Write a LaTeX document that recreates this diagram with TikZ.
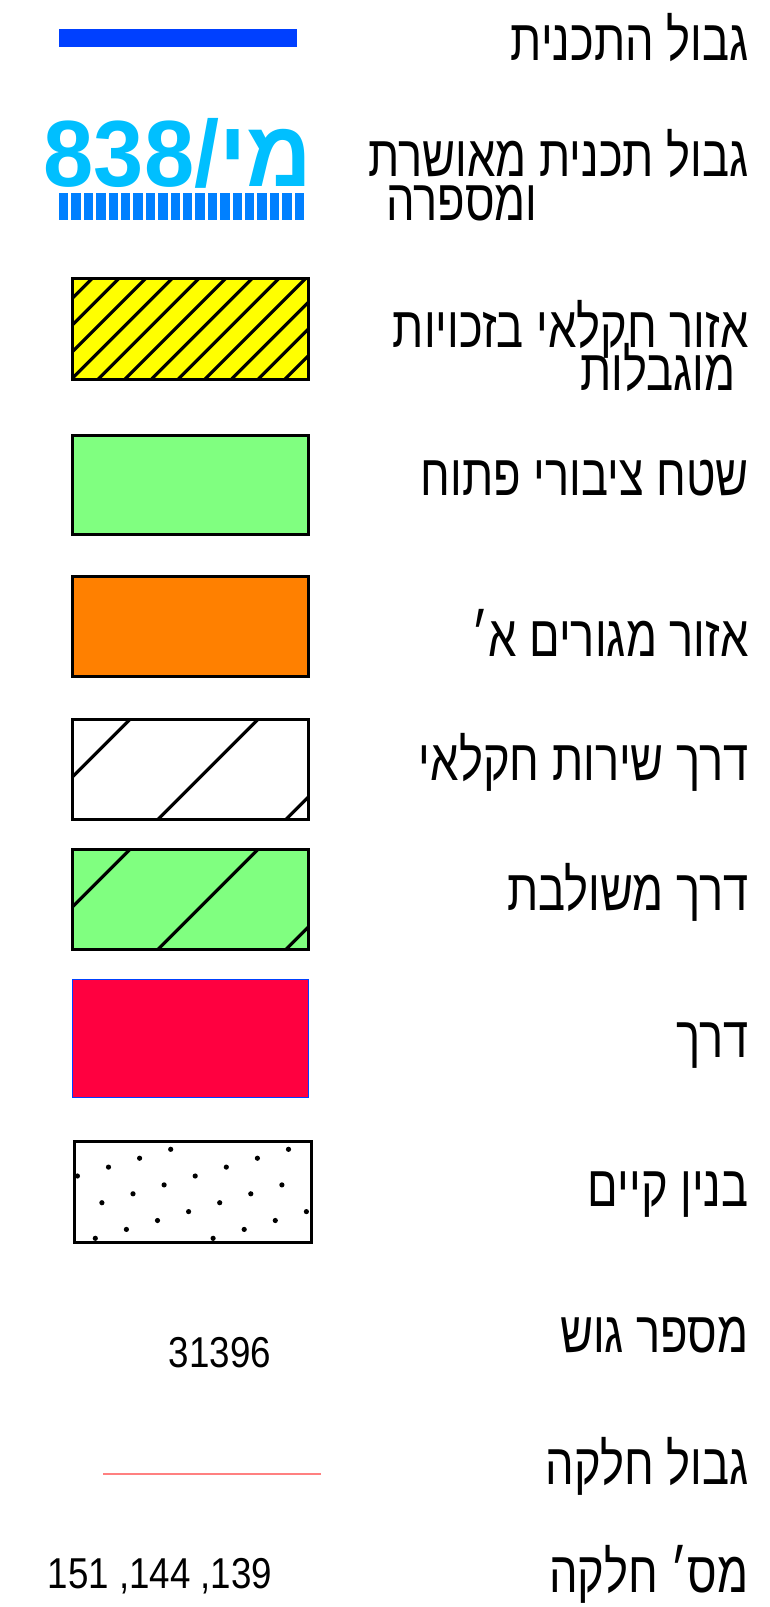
\documentclass[tikz,border=0pt]{standalone}
\usepackage{fontspec}
\setmainfont{Liberation Sans}
\newfontfamily\hebfont[Script=Hebrew,FakeStretch=0.78]{Liberation Sans}
\newfontfamily\numfont[FakeStretch=0.85]{Liberation Sans}
\newfontfamily\tagfont[FakeStretch=0.96]{Liberation Sans Bold}
\TeXXeTstate=1
\definecolor{planblue}{HTML}{0040FF}
\definecolor{tagblue}{HTML}{00BFFF}
\definecolor{barblue}{HTML}{0080FF}
\definecolor{agriyellow}{HTML}{FFFF00}
\definecolor{opengreen}{HTML}{80FF80}
\definecolor{resorange}{HTML}{FF8000}
\definecolor{roadred}{HTML}{FF0040}
\definecolor{lotpink}{HTML}{FF8080}
\tikzset{
  lbl/.style={anchor=east,inner sep=0pt,font=\hebfont\fontsize{29}{33}\selectfont},
  legbox/.style={draw=black,line width=1.5pt},
  hatch/.style={black,line width=1.6pt},
  num/.style={inner sep=0pt,font=\numfont\fontsize{21.6}{26}\selectfont}
}

\begin{document}
\begin{tikzpicture}[x=0.5pt,y=-0.5pt]
\useasboundingbox (0,0) rectangle (770,1607);
% plan boundary
\draw[planblue,line width=8.7pt] (59,38) -- (297,38);
\node[lbl] (bound) at (749,38) {\beginR גבול התכנית\endR};
% approved plan
\node[inner sep=0pt,text=tagblue,font=\tagfont\fontsize{47}{52}\selectfont] (tag) at (178,153) {838/\beginR מי\endR};
\foreach \i in {0,...,19}
  \fill[barblue] ({59+\i*12.4},193) rectangle ++(9.4,27);
\node[lbl] (approved) at (749,154) {\beginR גבול תכנית מאושרת\endR};
\node[lbl] (approved2) at (538,203) {\beginR ומספרה\endR};
% agricultural zone
\fill[agriyellow] (72,278) rectangle (308,379);
\begin{scope}
  \clip (72,278) rectangle (308,379);
  \foreach \x in {-4,...,9}
    \draw[hatch] ({71.7+26.67*\x},379) -- ++(110,-110);
\end{scope}
\draw[legbox] (72,278) rectangle (308,379);
\node[lbl] (agri) at (749,329) {\beginR אזור חקלאי בזכויות\endR};
\node[lbl] (agri2) at (736,368) {\beginR מוגבלות\endR};
% open space
\filldraw[legbox,fill=opengreen] (72,435) rectangle (308,534);
\node[lbl] (open) at (749,478) {\beginR שטח ציבורי פתוח\endR};
% residential
\filldraw[legbox,fill=resorange] (72,576) rectangle (308,676);
\node[lbl] (resid) at (749,633) {\beginR אזור מגורים א׳\endR};
% service road
\begin{scope}
  \clip (72,719) rectangle (308,819);
  \foreach \b in {-41.7,86.3,214.3}
    \draw[hatch] ({72+\b},819) -- ++(110,-110);
\end{scope}
\draw[legbox] (72,719) rectangle (308,819);
\node[lbl] (service) at (749,762) {\beginR דרך שירות חקלאי\endR};
% shared road
\fill[opengreen] (72,849) rectangle (308,949);
\begin{scope}
  \clip (72,849) rectangle (308,949);
  \foreach \b in {-41.7,86.3,214.3}
    \draw[hatch] ({72+\b},949) -- ++(110,-110);
\end{scope}
\draw[legbox] (72,849) rectangle (308,949);
\node[lbl] (shared) at (749,892) {\beginR דרך משולבת\endR};
% road
\filldraw[fill=roadred,draw=planblue,line width=0.5pt] (72,979) rectangle (308,1097);
\node[lbl] (road) at (749,1046) {\beginR דרך\endR};
% existing building
\begin{scope}
  \clip (74,1141) rectangle (311,1240);
  \foreach \i in {0,...,10}
    \foreach \j in {-1,...,3}
      \fill ({170.7-31.1*\i+117.8*\j},{1149.3+8.9*\i}) circle (1.3pt);
\end{scope}
\draw[legbox] (74,1141) rectangle (311,1242);
\node[lbl] (bldg) at (749,1195) {\beginR בנין קיים\endR};
% block number
\node[num] (block) at (220,1353) {31396};
\node[lbl] (blocklbl) at (749,1335) {\beginR מספר גוש\endR};
% lot boundary
\draw[lotpink,line width=1pt] (103,1474) -- (321,1474);
\node[lbl] (lot) at (749,1466) {\beginR גבול חלקה\endR};
% lot numbers
\node[num] (lots) at (160,1576) {151 ,144 ,139};
\node[lbl] (lotlbl) at (749,1574) {\beginR מס׳ חלקה\endR};
\end{tikzpicture}
\end{document}
